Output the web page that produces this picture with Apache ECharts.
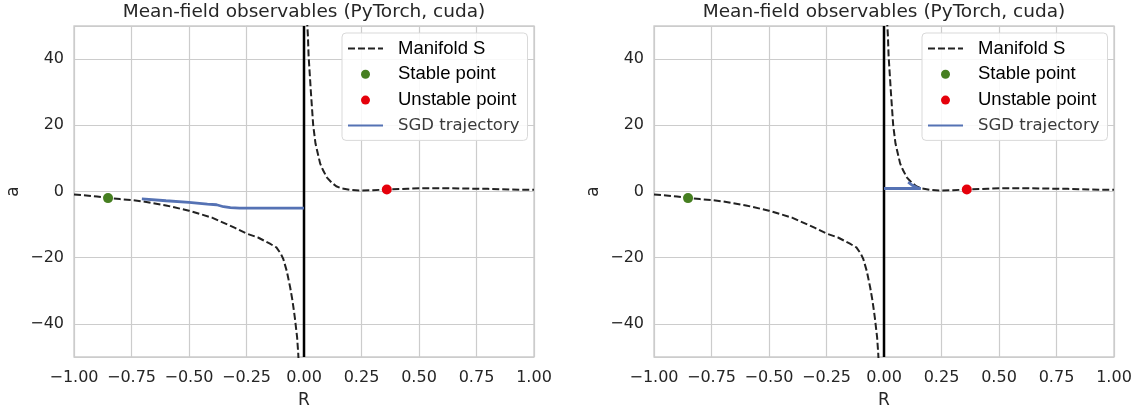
<!DOCTYPE html>
<html>
<head>
<meta charset="utf-8">
<script src="https://cdn.jsdelivr.net/npm/echarts@6/dist/echarts.min.js"></script>
<style>
  html, body { margin: 0; padding: 0; background: #fff; }
  #main { width: 1140px; height: 410px; }
</style>
</head>
<body>
<div id="main"></div>
<script>
// manifold S, two branches [R, a]
var manifoldLeft = [
    [-1.0, -0.9], [-0.9, -1.5], [-0.85, -1.9], [-0.8, -2.3], [-0.75, -2.6],
    [-0.7, -3.0], [-0.6, -4.2], [-0.5, -5.8], [-0.4, -7.9], [-0.3, -11.0],
    [-0.25, -12.7], [-0.2, -13.9], [-0.15, -15.7], [-0.12, -16.9], [-0.1, -18.9],
    [-0.09, -20.4], [-0.075, -24], [-0.06, -29], [-0.05, -33], [-0.04, -38],
    [-0.03, -44], [-0.025, -49], [-0.023, -52]
];
var manifoldRight = [
    [0.013, 52], [0.017, 47], [0.02, 41], [0.03, 30], [0.04, 20], [0.05, 14.5],
    [0.06, 11.5], [0.07, 8.5], [0.083, 6.4], [0.1, 4.2], [0.12, 2.7], [0.14, 1.6],
    [0.165, 0.9], [0.2, 0.5], [0.24, 0.3], [0.3, 0.4], [0.36, 0.6], [0.45, 0.85],
    [0.5, 0.95], [0.6, 1.0], [0.7, 0.9], [0.8, 0.8], [0.9, 0.6], [1.0, 0.5]
];
var stablePoint = [[-0.852, -2.0]];
var unstablePoint = [[0.36, 0.6]];
var zeroLine = [[0, -50], [0, 50]];

// SGD trajectories, one per panel
var trajLeft = [
    [-0.705, -2.2], [-0.6, -2.8], [-0.5, -3.3], [-0.42, -3.8], [-0.38, -4.0],
    [-0.35, -4.6], [-0.32, -4.9], [-0.28, -5.0], [0.0, -5.0]
];
var trajRight = [
    [0.105, 2.8], [0.125, 1.8], [0.145, 1.1], [0.16, 0.9], [0.0, 0.9]
];

var xTicks = [-1, -0.75, -0.5, -0.25, 0, 0.25, 0.5, 0.75, 1];
var yTicks = [-40, -20, 0, 20, 40];

var panelTitle = 'Mean-field observables (PyTorch, cuda)';
var font = 'DejaVu Sans';
var legFont = 'Liberation Sans';
var txt = '#262626';
var gridColor = '#cccccc';

var dom = document.getElementById('main');
var chart = echarts.init(dom, null, { renderer: 'canvas' });

var grids = [
    { left: 74, top: 26, width: 460, height: 331 },
    { left: 654, top: 26, width: 460, height: 331 }
];

function minus(s) { return String(s).replace('-', '\u2212'); }

var option = {
    animation: false,
    backgroundColor: '#fff',
    title: [],
    legend: [],
    grid: [],
    xAxis: [],
    yAxis: [],
    series: []
};

var trajs = [trajLeft, trajRight];
var dash = { color: '#222', width: 2, type: [7, 3] };

grids.forEach(function (g, i) {
    option.grid.push({
        left: g.left, top: g.top, width: g.width, height: g.height,
        outerBoundsMode: 'none', containLabel: false,
        show: true, borderColor: gridColor, borderWidth: 1.3, backgroundColor: 'transparent'
    });
    option.title.push({
        text: panelTitle,
        left: g.left + g.width / 2,
        top: 3,
        textAlign: 'center',
        padding: 0,
        textStyle: { fontFamily: font, fontSize: 18.5, fontWeight: 'normal', color: txt }
    });
    option.xAxis.push({
        type: 'value', gridIndex: i,
        min: xTicks[0], max: xTicks[xTicks.length - 1], interval: 0.25,
        name: 'R', nameLocation: 'middle', nameGap: 35,
        nameTextStyle: { fontFamily: font, fontSize: 17, color: txt },
        axisLine: { show: false }, axisTick: { show: false },
        axisLabel: {
            fontFamily: font, fontSize: 16, color: txt, margin: 13,
            formatter: function (v) { return minus(v.toFixed(2)); }
        },
        splitLine: { lineStyle: { color: gridColor, width: 1.2 } }
    });
    option.yAxis.push({
        type: 'value', gridIndex: i,
        min: -50, max: 50, splitNumber: 5,
        name: 'a', nameLocation: 'middle', nameGap: 52,
        nameTextStyle: { fontFamily: font, fontSize: 17, color: txt },
        axisLine: { show: false }, axisTick: { show: false },
        axisLabel: {
            fontFamily: font, fontSize: 16, color: txt, margin: 10,
            formatter: function (v) { return yTicks.indexOf(v) < 0 ? '' : minus(v); }
        },
        splitLine: { lineStyle: { color: gridColor, width: 1.2 } }
    });
    option.legend.push({
        orient: 'vertical',
        left: g.left + 268, top: 33,
        padding: [6, 8, 6, 5],
        itemGap: 6.8,
        itemWidth: 35, itemHeight: 9,
        backgroundColor: 'rgba(255,255,255,0.85)',
        borderColor: '#d9d9d9', borderWidth: 1, borderRadius: 4,
        textStyle: { fontFamily: legFont, fontSize: 18.5, color: '#000', lineHeight: 18, padding: [0, 0, 0, 10] },
        data: [
            { name: 'Manifold S', itemStyle: { opacity: 0 } },
            { name: 'Stable point', icon: 'circle' },
            { name: 'Unstable point', icon: 'circle' },
            { name: 'SGD trajectory', itemStyle: { opacity: 0 },
              textStyle: { fontFamily: font, fontSize: 16.5, color: '#3a3a3a' } }
        ]
    });

    option.series.push({
        name: 'Manifold S', type: 'line', xAxisIndex: i, yAxisIndex: i,
        data: manifoldLeft, symbol: 'none', clip: true, lineStyle: dash, z: 3
    });
    option.series.push({
        name: 'Manifold S', type: 'line', xAxisIndex: i, yAxisIndex: i,
        data: manifoldRight, symbol: 'none', clip: true, lineStyle: dash, z: 3
    });
    option.series.push({
        name: 'zero', type: 'line', xAxisIndex: i, yAxisIndex: i,
        data: zeroLine, symbol: 'none', silent: true,
        lineStyle: { color: '#000', width: 2.5 }, z: 4
    });
    option.series.push({
        name: 'SGD trajectory', type: 'line', xAxisIndex: i, yAxisIndex: i,
        data: trajs[i], symbol: 'none',
        lineStyle: { color: '#5572b4', width: 2.8 }, itemStyle: { color: '#5572b4' }, z: 5
    });
    option.series.push({
        name: 'Stable point', type: 'scatter', xAxisIndex: i, yAxisIndex: i,
        data: stablePoint, symbolSize: 10,
        itemStyle: { color: '#467f21', opacity: 1 }, z: 6
    });
    option.series.push({
        name: 'Unstable point', type: 'scatter', xAxisIndex: i, yAxisIndex: i,
        data: unstablePoint, symbolSize: 10,
        itemStyle: { color: '#e5000b', opacity: 1 }, z: 6
    });
});

chart.setOption(option);
</script>
</body>
</html>
